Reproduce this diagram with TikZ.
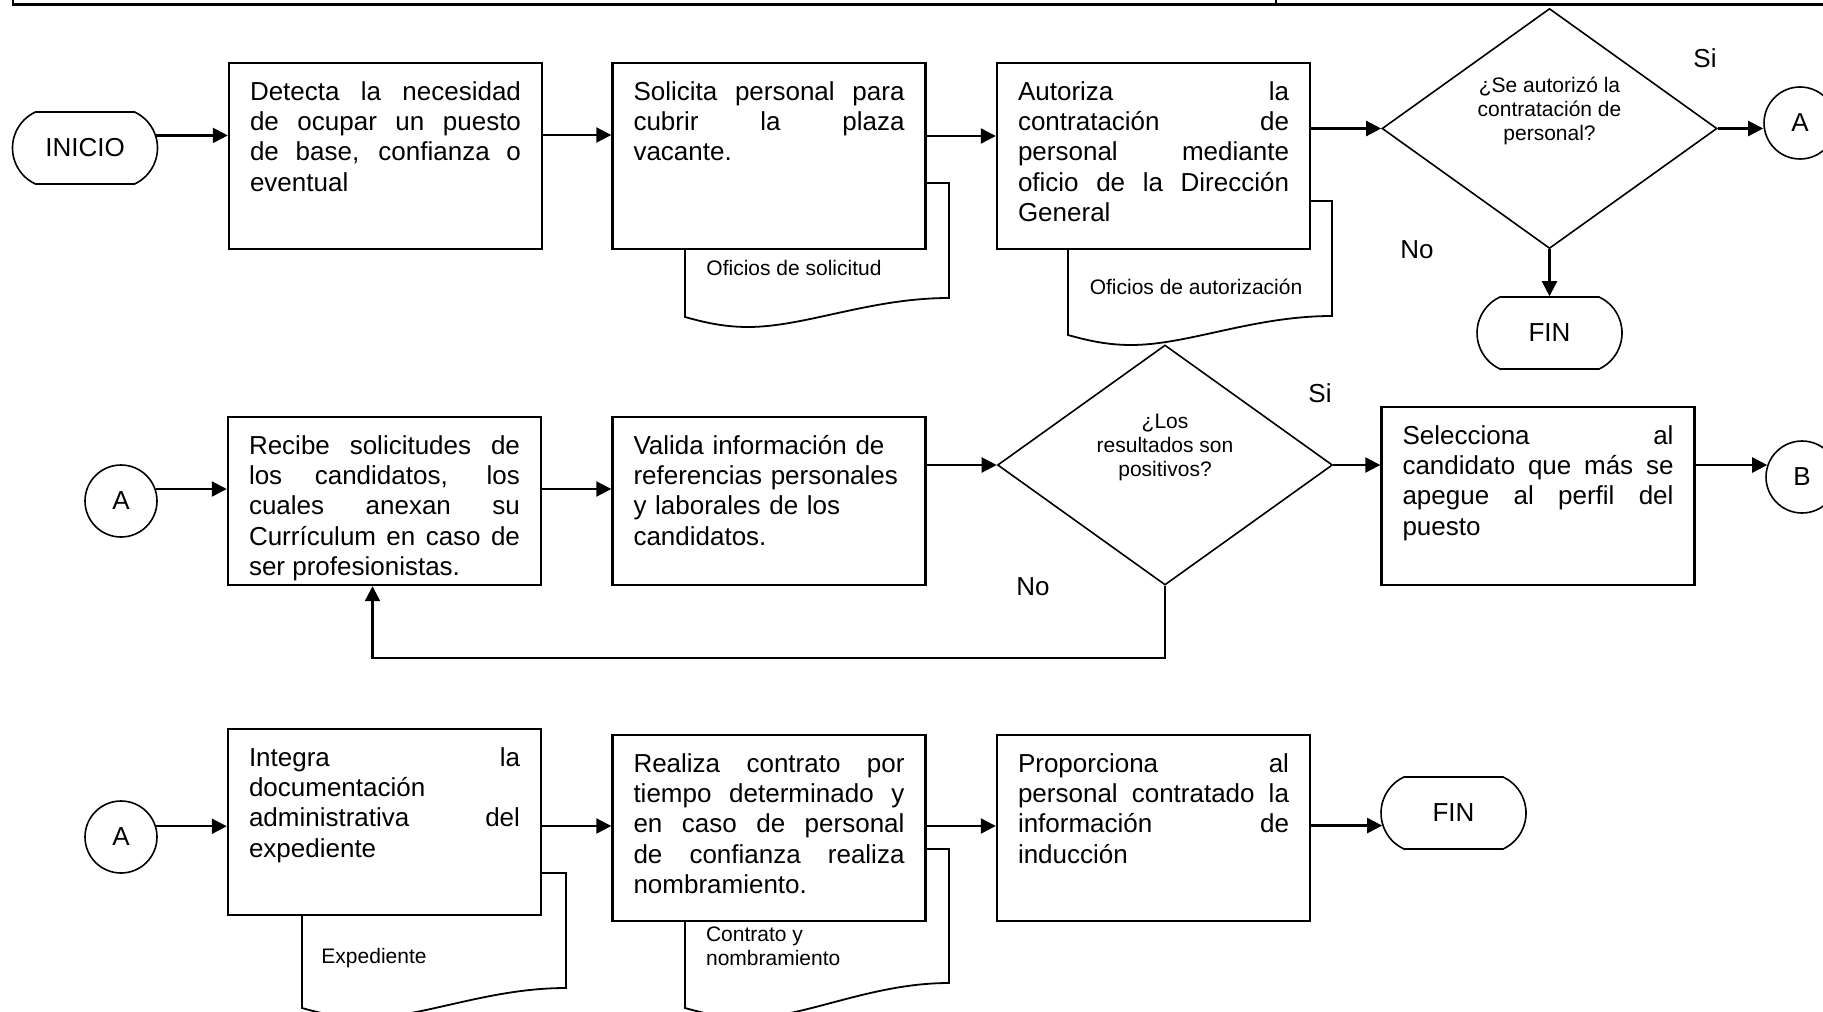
\documentclass[tikz,border=0pt]{standalone}
\usepackage{fontspec}
\setmainfont{Liberation Sans}
\usetikzlibrary{arrows.meta,shapes.geometric,shapes.misc}
\hyphenpenalty=10000
\tolerance=10000

\begin{document}
\begin{tikzpicture}[
        x=0.5pt, y=-0.5pt,
        txt/.style={font=\fontsize{13}{15.2}\selectfont},
        smalltxt/.style={font=\fontsize{10.5}{12}\selectfont},
        box/.style={draw, line width=1.2pt, fill=white, txt, text width=135.5pt, align=justify,
            inner xsep=10.5pt, inner ysep=8.5pt, text height=10pt, text depth=#1},
        box/.default=66pt,
        terminal/.style={draw, line width=0.8pt, rounded rectangle, rounded rectangle arc length=130,
            minimum width=72.5pt, minimum height=36pt, inner sep=0pt, txt},
        connector/.style={draw, circle, line width=0.8pt, minimum size=36pt, inner sep=0pt, txt},
        decision/.style={draw, diamond, line width=0.8pt, fill=white, minimum width=167.5pt,
            minimum height=120pt, inner sep=0pt, smalltxt},
        doc/.style={draw, line width=0.9pt},
        arrow/.style={-{Triangle[length=7.5pt,width=7.5pt]}, line width=1.1pt}
        ]
        \path[use as bounding box] (0,0) rectangle (1823,1011);
        \clip (0,0) rectangle (1823,1011);
        \draw[line width=1.2pt] (13,0) -- (13,4.6) -- (1823,4.6);
        \draw[line width=0.6pt] (1276,0) -- (1276,4.6);

        \foreach \l/\t/\bl/\br in {685/183/317/298, 1068/201/335/316, 302/873/1008/988, 685/849/1008/983} {
            \draw[doc] (\l,\t) -- ({\l+264},\t) -- ({\l+264},\br)
                .. controls ({\l+185},\br) and ({\l+120},{\bl+10}) .. ({\l+63},{\bl+10})
                .. controls ({\l+38},{\bl+10}) and ({\l+18},{\bl+5}) .. (\l,\bl) -- cycle;
        }
        \node[smalltxt] (os) at (794,268) {Oficios de solicitud};
        \node[smalltxt] (oa) at (1196,287) {Oficios de autorización};
        \node[smalltxt] (ex) at (374,958) {Expediente};
        \node[smalltxt, align=left, anchor=west] (cn) at (699,946) {Contrato y\\nombramiento};

        \node[terminal] (inicio) at (85,148) {INICIO};
        \node[box] (b1) at (385.5,156) {Detecta la necesidad\linebreak de ocupar un puesto\linebreak de base, confianza o\linebreak eventual};
        \node[box] (b2) at (769,156) {Solicita personal para\linebreak cubrir la plaza\linebreak vacante.};
        \node[box] (b3) at (1153.5,156) {Autoriza la\linebreak contratación de\linebreak personal mediante\linebreak oficio de la Dirección\linebreak General};
        \node[decision] (q1) at (1549.5,128.5) {\raisebox{5.8pt}[0pt][0pt]{\begin{tabular}{@{}c@{}}¿Se autorizó la\\contratación de\\personal?\end{tabular}}};
        \node[connector] (a1) at (1800,123) {A};
        \node[terminal] (fin1) at (1549.5,333) {FIN};
        \node[txt] (si1) at (1705,58) {Si};
        \node[txt] (no1) at (1417,250) {No};

        \draw[arrow] (inicio.10) -- (inicio.10 -| b1.west);
        \draw[arrow] ([yshift=10.5pt]b1.east) -- ([yshift=10.5pt]b2.west);
        \draw[arrow] ([yshift=10pt]b2.east) -- ([yshift=10pt]b3.west);
        \draw[arrow] (b3.east |- q1.west) -- (q1.west);
        \draw[arrow] (q1.east) -- (q1.east -| a1.west);
        \draw[arrow] (q1.south) -- (fin1.north);

        \node[connector] (a2) at (121,501) {A};
        \node[box=57pt] (b4) at (384.5,501) {Recibe solicitudes de\linebreak los candidatos, los\linebreak cuales anexan su\linebreak Currículum en caso de\linebreak ser profesionistas.};
        \node[box=57pt, align=left] (b5) at (769,501) {Valida información de\\referencias personales\\y laborales de los\\candidatos.};
        \node[decision] (q2) at (1165,465) {\raisebox{5.8pt}[0pt][0pt]{\begin{tabular}{@{}c@{}}¿Los\\resultados son\\positivos?\end{tabular}}};
        \node[box=62pt] (b6) at (1538,496) {Selecciona al\linebreak candidato que más se\linebreak apegue al perfil del\linebreak puesto};
        \node[connector] (cb) at (1802,477) {B};
        \node[txt] (si2) at (1320,393) {Si};
        \node[txt] (no2) at (1033,587) {No};

        \draw[arrow] (a2.19) -- (a2.19 -| b4.west);
        \draw[arrow] ([yshift=6pt]b4.east) -- ([yshift=6pt]b5.west);
        \draw[arrow] (b5.east |- q2.west) -- (q2.west);
        \draw[arrow] (q2.east) -- (q2.east -| b6.west);
        \draw[arrow] (b6.east |- cb.161) -- (cb.161);
        \draw[arrow] (q2.south) -- ++(0,72) -| ([xshift=-6pt]b4.south);

        \node[connector] (a3) at (121,837) {A};
        \node[box] (b7) at (384.5,822) {Integra la\linebreak documentación\linebreak administrativa del\linebreak expediente};
        \node[box] (b8) at (769,828) {Realiza contrato por\linebreak tiempo determinado y\linebreak en caso de personal\linebreak de confianza realiza\linebreak nombramiento.};
        \node[box] (b9) at (1153.5,828) {Proporciona al\linebreak personal contratado la\linebreak información de\linebreak inducción};
        \node[terminal] (fin2) at (1453.5,813) {FIN};

        \draw[arrow] (a3.17) -- (a3.17 -| b7.west);
        \draw[arrow] ([yshift=-2pt]b7.east) -- ([yshift=1pt]b8.west);
        \draw[arrow] ([yshift=1pt]b8.east) -- ([yshift=1pt]b9.west);
        \draw[arrow] (fin2.190 -| b9.east) -- (fin2.190);
\end{tikzpicture}
\end{document}
